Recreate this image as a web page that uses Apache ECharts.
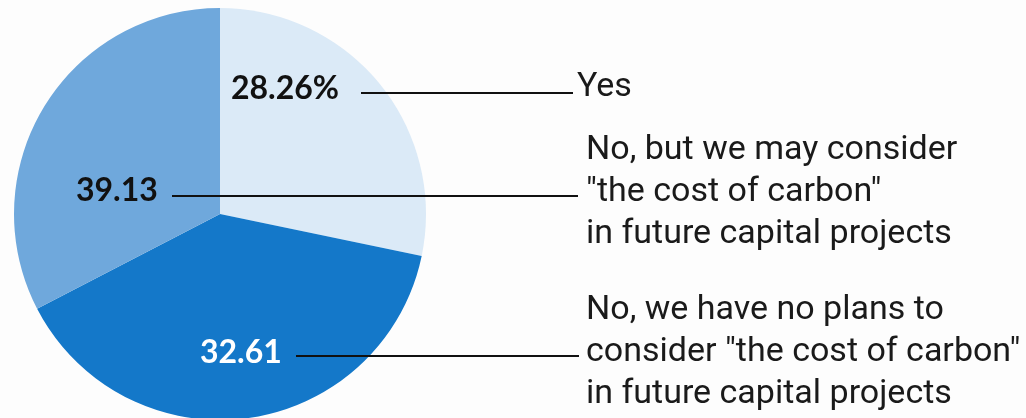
<!DOCTYPE html>
<html><head><meta charset="utf-8">
<script src="https://cdn.jsdelivr.net/npm/echarts@6/dist/echarts.min.js"></script>
<style>html,body{margin:0;padding:0;background:#fdfdfd}#c{width:1026px;height:418px}</style>
</head><body><div id="c"></div>
<script>
// ---- data ----
const categories = [
  'Yes',
  'No, but we may consider\n"the cost of carbon"\nin future capital projects',
  'No, we have no plans to\nconsider "the cost of carbon"\nin future capital projects'
];
const values = [28.26, 39.13, 32.61];
const valueSuffix = ['%', '', ''];

// ---- styling / layout ----
const colors = ['#dbeaf7', '#1478c9', '#6fa8dc'];
const valueLabelColor = ['#111111', '#111111', '#ffffff'];
const valueLabelPos = [[231, 89], [76, 191], [200, 353]];
const nameLabelPos = [[577, 87], [586, 192], [586, 352]];
const leaderLines = [[361, 573, 93], [172, 578, 196], [296, 579, 356]];

const chart = echarts.init(document.getElementById('c'), null, {renderer: 'canvas'});
const center = [220, 214];
const radius = 206;

chart.setOption({
  backgroundColor: '#fdfdfd',
  animation: false,
  series: [
    {
      type: 'pie',
      z: 1,
      center: center,
      radius: radius,
      startAngle: 90,
      clockwise: true,
      silent: true,
      avoidLabelOverlap: false,
      itemStyle: {borderWidth: 0},
      data: values.map((v, i) => ({
        name: categories[i], value: v,
        itemStyle: {color: colors[i]},
        label: {color: valueLabelColor[i]}
      })),
      label: {
        show: true, position: 'inside',
        formatter: p => p.value + valueSuffix[p.dataIndex],
        fontFamily: 'Lato', fontWeight: 'bold', fontSize: 32
      },
      labelLine: {show: false},
      labelLayout: p => ({
        x: valueLabelPos[p.dataIndex][0], y: valueLabelPos[p.dataIndex][1],
        align: 'left', verticalAlign: 'middle'
      })
    },
    {
      type: 'pie',
      z: 3,
      center: center,
      radius: radius,
      startAngle: 90,
      clockwise: true,
      silent: true,
      avoidLabelOverlap: false,
      itemStyle: {color: 'rgba(0,0,0,0)', borderWidth: 0},
      data: values.map((v, i) => ({name: categories[i], value: v})),
      label: {
        show: true, position: 'outside', formatter: '{b}',
        fontFamily: 'Roboto', fontSize: 34, lineHeight: 42, color: '#1a1a1a'
      },
      labelLine: {show: true, smooth: false, lineStyle: {color: '#111111', width: 2}},
      labelLayout: p => {
        const i = p.dataIndex;
        const l = leaderLines[i];
        return {
          x: nameLabelPos[i][0], y: nameLabelPos[i][1],
          align: 'left', verticalAlign: 'middle',
          labelLinePoints: [[l[0], l[2]], [(l[0] + l[1]) / 2, l[2]], [l[1], l[2]]]
        };
      }
    }
  ]
});
</script>
</body></html>
